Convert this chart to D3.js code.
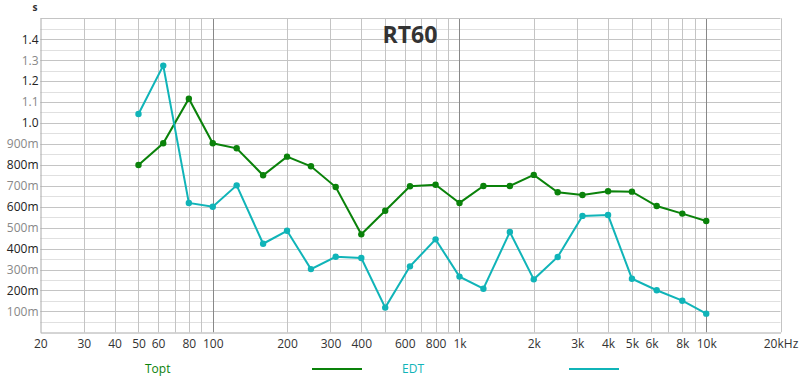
<!DOCTYPE html>
<html>
<head>
<meta charset="utf-8">
<script src="https://cdn.jsdelivr.net/npm/d3@7"></script>
<style>
  body { margin: 0; background: #fff; }
  svg text { font-family: "Open Sans", "Noto Sans", sans-serif; }
</style>
</head>
<body>
<div class="canvas"></div>
<script>
// third-octave bands (Hz)
const freqs = [50, 63, 80, 100, 125, 160, 200, 250, 315, 400, 500, 630, 800,
    1000, 1250, 1600, 2000, 2500, 3150, 4000, 5000, 6300, 8000, 10000];
// reverb times (s)
const topt = [0.799, 0.903, 1.116, 0.903, 0.879, 0.750, 0.839, 0.793, 0.694, 0.468, 0.581, 0.698, 0.705,
    0.618, 0.699, 0.699, 0.752, 0.669, 0.656, 0.674, 0.672, 0.603, 0.567, 0.532];
const edt = [1.043, 1.274, 0.618, 0.600, 0.702, 0.423, 0.485, 0.302, 0.361, 0.355, 0.118, 0.315, 0.444,
    0.266, 0.208, 0.479, 0.253, 0.360, 0.556, 0.560, 0.256, 0.201, 0.151, 0.089];
const xTickVals = [20, 30, 40, 50, 60, 80, 100, 200, 300, 400, 600, 800, 1000, 2000, 3000, 4000, 5000, 6000, 8000, 10000, 20000];
const xTickLabels = ['20', '30', '40', '50', '60', '80', '100', '200', '300', '400', '600', '800', '1k', '2k', '3k', '4k', '5k', '6k', '8k', '10k', '20kHz'];
const yTickVals = [0.1, 0.2, 0.3, 0.4, 0.5, 0.6, 0.7, 0.8, 0.9, 1.0, 1.1, 1.2, 1.3, 1.4];
const yTickLabels = ['100m', '200m', '300m', '400m', '500m', '600m', '700m', '800m', '900m', '1.0', '1.1', '1.2', '1.3', '1.4'];

const width = 800, height = 384;
const toptColor = '#0a820a';
const edtColor = '#10b4b8';

const svg = d3.select('.canvas')
    .append('svg')
    .attr('width', width)
    .attr('height', height);

const x = d3.scaleLog().domain([20, 20000]).range([40.3, 780.5]);
const y = d3.scaleLinear().domain([0, 1.5]).range([332.3, 18.3]);

// horizontal grid, every 0.05
const hLines = d3.range(1, 30).map(i => i * 0.05);
svg.append('g').selectAll('line')
    .data(hLines)
    .enter().append('line')
    .attr('x1', x(20)).attr('x2', x(20000))
    .attr('y1', d => Math.round(y(d)) + 0.5).attr('y2', d => Math.round(y(d)) + 0.5)
    .attr('stroke', (d, i) => i % 2 === 1 ? '#c4c4c4' : '#e0e0e0')
    .attr('stroke-width', 1);

// vertical grid
const vLines = [];
[10, 100, 1000, 10000].forEach(dec => {
    for (let k = 1; k <= 9; k++) {
        const f = dec * k;
        if (f > 20 && f < 20000) vLines.push(f);
    }
});
svg.append('g').selectAll('line')
    .data(vLines)
    .enter().append('line')
    .attr('x1', d => Math.round(x(d)) + 0.5).attr('x2', d => Math.round(x(d)) + 0.5)
    .attr('y1', y(1.5)).attr('y2', y(0))
    .attr('stroke', d => [100, 1000, 10000].includes(d) ? '#888' : '#c4c4c4')
    .attr('stroke-width', 1);

// frame
svg.append('line')
    .attr('x1', x(20)).attr('x2', x(20000))
    .attr('y1', Math.round(y(1.5)) + 0.5).attr('y2', Math.round(y(1.5)) + 0.5)
    .attr('stroke', '#c4c4c4');
svg.append('line')
    .attr('x1', Math.round(x(20000)) + 0.5).attr('x2', Math.round(x(20000)) + 0.5)
    .attr('y1', y(1.5)).attr('y2', y(0))
    .attr('stroke', '#c4c4c4');

// axes
const xAxis = d3.axisBottom(x)
    .tickValues(xTickVals)
    .tickSize(0)
    .tickPadding(7)
    .tickFormat((d, i) => xTickLabels[i]);
const xAxisGroup = svg.append('g')
    .attr('transform', `translate(0, ${Math.round(y(0)) + 0.5})`)
    .call(xAxis);
xAxisGroup.select('.domain').attr('stroke', '#aaa');
xAxisGroup.selectAll('text')
    .attr('fill', '#333')
    .attr('font-size', 12);

const yAxis = d3.axisLeft(y)
    .tickValues(yTickVals)
    .tickSize(0)
    .tickPadding(2)
    .tickFormat((d, i) => yTickLabels[i]);
const yAxisGroup = svg.append('g')
    .attr('transform', `translate(${Math.round(x(20)) + 0.5}, 0)`)
    .call(yAxis);
yAxisGroup.select('.domain').attr('stroke', '#aaa');
yAxisGroup.selectAll('text')
    .attr('fill', (d, i) => i % 2 === 1 ? '#222' : '#888')
    .attr('font-size', 12);

// unit label
svg.append('text')
    .attr('x', 35).attr('y', 11)
    .attr('font-size', 10)
    .attr('font-weight', 'bold')
    .attr('fill', '#333')
    .attr('text-anchor', 'middle')
    .text('s');

// title
svg.append('text')
    .attr('x', 410).attr('y', 43)
    .attr('text-anchor', 'middle')
    .attr('font-size', 23)
    .attr('font-weight', 'bold')
    .attr('fill', '#333')
    .text('RT60');

// series
const series = [
    { name: 'Topt', values: topt, color: toptColor },
    { name: 'EDT', values: edt, color: edtColor }
];
const line = d3.line()
    .x(d => x(d[0]))
    .y(d => y(d[1]));

series.forEach(s => {
    const pts = freqs.map((f, i) => [f, s.values[i]]);
    svg.append('path')
        .datum(pts)
        .attr('fill', 'none')
        .attr('stroke', s.color)
        .attr('stroke-width', 2)
        .attr('d', line);
    svg.append('g').selectAll('circle')
        .data(pts)
        .enter().append('circle')
        .attr('cx', d => x(d[0]))
        .attr('cy', d => y(d[1]))
        .attr('r', 3.2)
        .attr('fill', s.color);
});

// legend
const legend = [
    { name: 'Topt', color: toptColor, tx: 145, lx1: 312, lx2: 362 },
    { name: 'EDT', color: edtColor, tx: 402, lx1: 569, lx2: 619 }
];
legend.forEach(l => {
    svg.append('text')
        .attr('x', l.tx).attr('y', 373)
        .attr('font-size', 12)
        .attr('fill', l.color)
        .text(l.name);
    svg.append('line')
        .attr('x1', l.lx1).attr('x2', l.lx2)
        .attr('y1', 369).attr('y2', 369)
        .attr('stroke', l.color)
        .attr('stroke-width', 2);
});
</script>
</body>
</html>
